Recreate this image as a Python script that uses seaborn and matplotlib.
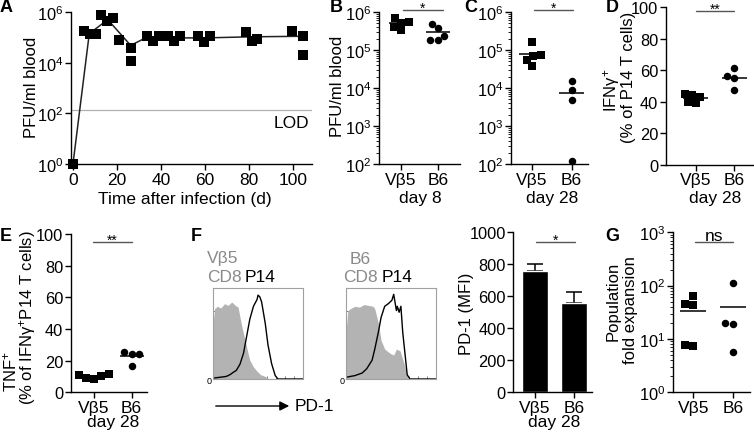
import numpy as np
import pandas as pd
import matplotlib
matplotlib.use("Agg")
import matplotlib.pyplot as plt
import seaborn as sns
from matplotlib.ticker import LogLocator, NullFormatter
from matplotlib.patches import FancyArrowPatch
from matplotlib.lines import Line2D

# ---------------- data ----------------
cats = ["Vβ5", "B6"]

# Panel A: virus titre over time
a_day = [0, 5.1, 7.7, 10.5, 12.7, 15.6, 18.3, 20.9, 26.4, 26.4, 33.5, 36.2, 39.1,
         43.3, 45.9, 48.6, 57.0, 59.7, 62.3, 78.5, 81.2, 83.5, 99.7, 104.7, 104.7]
a_pfu = [1, 1.8e5, 1.35e5, 1.35e5, 7.9e5, 4.3e5, 5.8e5, 7.6e4, 3.9e4, 1.2e4, 1.1e5,
         6.9e4, 1.1e5, 1.1e5, 6.9e4, 1.1e5, 1.1e5, 6.6e4, 1.1e5, 1.6e5, 6.9e4, 8.5e4,
         1.8e5, 1.1e5, 2.0e4]
a_mean_day = [0, 7.4, 15.8, 26.2, 33.5, 46, 60, 81, 104.7]
a_mean_pfu = [1, 1.4e5, 5.0e5, 4.8e4, 1.0e5, 9.5e4, 9.5e4, 1.05e5, 1.1e5]
lod = 1.35e2

# Panel B: PFU day 8
b_vb5 = [5.5e5, 6.9e5, 5.2e5, 4.1e5, 3.3e5]
b_b6 = [4.9e5, 3.8e5, 2.4e5, 1.8e5, 1.8e5]
# Panel C: PFU day 28
c_vb5 = [1.6e5, 6.9e4, 7.2e4, 5.4e4, 3.8e4]
c_b6 = [1.5e4, 8.7e3, 4.9e3, 1.2e2]
# Panel D: IFNg+
d_vb5 = [45, 43, 44, 39, 40]
d_b6 = [56.2, 54.9, 61.2, 47.7]
# Panel E: TNF+
e_vb5 = [11.5, 11, 10, 9, 8.5]
e_b6 = [24.5, 25.5, 24, 16.5]
# Panel F: PD-1 MFI
f_mean = [760, 560]
f_sem = [45, 70]
# Panel G: fold expansion
g_vb5 = [7.5, 7.7, 45, 43, 63]
g_b6 = [112, 19, 19.5, 5.8]

# Panel F histograms (fraction of axis)
h1_cd8_x = [0.0, 0.02, 0.05, 0.09, 0.13, 0.17, 0.21, 0.25, 0.28, 0.32, 0.36, 0.39, 0.41, 0.45, 0.49, 0.53, 0.58, 0.62, 1.0]
h1_cd8_y = [0.6, 0.82, 0.85, 0.83, 0.88, 0.86, 0.9, 0.86, 0.84, 0.62, 0.44, 0.3, 0.22, 0.14, 0.09, 0.05, 0.03, 0.0, 0.0]
h1_p14_x = [0.0, 0.08, 0.15, 0.19, 0.23, 0.26, 0.3, 0.34, 0.375, 0.41, 0.45, 0.49, 0.5, 0.52, 0.54, 0.58, 0.61, 0.65, 0.69, 0.72, 1.0]
h1_p14_y = [0.01, 0.02, 0.03, 0.05, 0.08, 0.1, 0.17, 0.3, 0.5, 0.7, 0.85, 0.93, 0.98, 0.96, 0.9, 0.65, 0.4, 0.18, 0.04, 0.0, 0.0]
h2_cd8_x = [0.0, 0.02, 0.06, 0.1, 0.15, 0.2, 0.25, 0.3, 0.32, 0.36, 0.39, 0.43, 0.49, 0.53, 0.56, 0.6, 0.64, 0.67, 0.69, 1.0]
h2_cd8_y = [0.55, 0.8, 0.83, 0.85, 0.84, 0.87, 0.86, 0.85, 0.82, 0.65, 0.45, 0.35, 0.3, 0.28, 0.35, 0.33, 0.2, 0.07, 0.0, 0.0]
h2_p14_x = [0.0, 0.1, 0.18, 0.23, 0.29, 0.32, 0.36, 0.39, 0.43, 0.47, 0.51, 0.53, 0.56, 0.57, 0.59, 0.61, 0.63, 0.66, 0.68, 0.71, 1.0]
h2_p14_y = [0.02, 0.04, 0.07, 0.12, 0.22, 0.35, 0.55, 0.72, 0.85, 0.88, 0.92, 0.99, 0.8, 0.85, 0.78, 0.85, 0.55, 0.25, 0.05, 0.0, 0.0]

# ---------------- style ----------------
sns.set_theme(style="ticks")
plt.rcParams["font.family"] = ["Liberation Sans", "DejaVu Sans"]
plt.rcParams["mathtext.fontset"] = "custom"
plt.rcParams["mathtext.rm"] = "Liberation Sans"
plt.rcParams["mathtext.it"] = "Liberation Sans:italic"
plt.rcParams["mathtext.bf"] = "Liberation Sans:bold"
for k in ["text.color", "axes.labelcolor", "xtick.color", "ytick.color", "axes.edgecolor"]:
    plt.rcParams[k] = "black"
plt.rcParams["axes.linewidth"] = 1.0

FS = 12.5
VFS = 12.0
XFS = 12.5
YFS = 11.8
W, H = 754, 435
fig = plt.figure(figsize=(W / 100, H / 100), dpi=100)


def add_ax(l, t, r, b):
    return fig.add_axes([l / W, 1 - b / H, (r - l) / W, (b - t) / H])


def ftext(x, y, s, **kw):
    kw.setdefault("fontsize", FS)
    kw.setdefault("ha", "center")
    kw.setdefault("va", "center")
    fig.text(x / W, 1 - y / H, s, **kw)


def vtext(x, y, s):
    ftext(x, y, s, rotation=90, fontsize=VFS)


def style(ax, log=False):
    sns.despine(ax=ax)
    ax.tick_params(axis="both", which="major", length=4, width=1, pad=1.5)
    ax.tick_params(axis="x", labelsize=XFS)
    ax.tick_params(axis="y", labelsize=YFS)
    if log:
        ax.yaxis.set_minor_locator(LogLocator(base=10, subs=np.arange(2, 10)))
        ax.yaxis.set_minor_formatter(NullFormatter())
        ax.tick_params(axis="y", which="minor", length=2, width=0.6)


def sig(ax, x0, x1, yfrac, text, fs=10, off=-1.1):
    tr = ax.get_xaxis_transform()
    ax.add_line(Line2D([x0, x1], [yfrac, yfrac], transform=tr, color="#555555",
                       lw=1, clip_on=False))
    ax.annotate(text, xy=((x0 + x1) / 2, yfrac), xycoords=tr, xytext=(0, off),
                textcoords="offset points", ha="center", va="baseline",
                fontsize=fs, annotation_clip=False)


def dotpanel(ax, vb5, b6, log, xlim):
    df = pd.DataFrame({"g": [cats[0]] * len(vb5) + [cats[1]] * len(b6),
                       "v": list(vb5) + list(b6)})
    kw = dict(x="g", y="v", order=cats, color="black", size=5.4, ax=ax,
              linewidth=0)
    if log:
        kw["log_scale"] = (False, True)
    sns.swarmplot(data=df[df.g == cats[0]], marker="s", **kw)
    sns.swarmplot(data=df[df.g == cats[1]], marker="o", **kw)
    means = df.groupby("g")["v"].mean()
    for i, c in enumerate(cats):
        ax.hlines(means[c], i - 0.32, i + 0.32, color="black", lw=1.1, zorder=5)
    ax.set_xlim(*xlim)
    ax.set_xlabel("")
    ax.set_ylabel("")
    style(ax, log)


# ---------------- Panel A ----------------
axA = add_ax(71, 13, 312, 165)
axA.set_yscale("log")
sns.lineplot(x=a_mean_day, y=a_mean_pfu, color="#222222", lw=1.1, ax=axA)
sns.scatterplot(x=a_day, y=a_pfu, marker="s", color="black", s=52, linewidth=0,
                ax=axA, zorder=4, clip_on=False)
axA.axhline(lod, color="#b0b0b0", lw=0.9, zorder=0)
axA.text(107.5, lod / 1.6, "LOD", ha="right", va="top", fontsize=FS)
axA.set_xlim(-0.9, 108.6)
axA.set_ylim(1, 1e6)
axA.set_xticks([0, 20, 40, 60, 80, 100])
axA.set_yticks([1, 1e2, 1e4, 1e6])
style(axA, True)
vtext(32, 87, "PFU/ml blood")
ftext(185, 200, "Time after infection (d)")

# ---------------- Panel B ----------------
axB = add_ax(379, 13, 460, 165)
dotpanel(axB, b_vb5, b_b6, True, (-0.58, 1.58))
axB.set_ylim(1e2, 1e6)
axB.set_yticks([1e2, 1e3, 1e4, 1e5, 1e6])
sig(axB, 0.05, 1.12, 1.01, "*")
vtext(338, 86, "PFU/ml blood")
ftext(420, 199, "day 8")

# ---------------- Panel C ----------------
axC = add_ax(511, 13, 588, 165)
dotpanel(axC, c_vb5, c_b6, True, (-0.52, 1.41))
axC.set_ylim(1e2, 1e6)
axC.set_yticks([1e2, 1e3, 1e4, 1e5, 1e6])
sig(axC, 0.06, 1.03, 1.01, "*")
ftext(552, 199, "day 28")

# ---------------- Panel D ----------------
axD = add_ax(666, 8.3, 753, 165.7)
dotpanel(axD, d_vb5, d_b6, False, (-0.77, 1.48))
axD.set_ylim(0, 100)
axD.set_yticks([0, 20, 40, 60, 80, 100])
sig(axD, 0.01, 0.99, 0.978, "**")
vtext(612, 90, "IFNγ$^{+}$")
vtext(628, 77, "(% of P14 T cells)")
ftext(715, 199, "day 28")

# ---------------- Panel E ----------------
axE = add_ax(70.7, 235, 146.7, 393.3)
dotpanel(axE, e_vb5, e_b6, False, (-0.62, 1.40))
axE.set_ylim(0, 100)
axE.set_yticks([0, 20, 40, 60, 80, 100])
sig(axE, -0.03, 1.0, 0.947, "**")
vtext(10, 372, "TNF$^{+}$")
vtext(28, 318, "(% of IFNγ$^{+}$P14 T cells)")
ftext(113, 423, "day 28")

# ---------------- Panel F histograms ----------------
def histpanel(ax, xg, yg, xb, yb):
    ax.fill_between(xg, yg, color="#b3b3b3", lw=0)
    sns.lineplot(x=xb, y=yb, color="black", lw=1, ax=ax, sort=False,
                 estimator=None)
    ax.set_xlim(0, 1)
    ax.set_ylim(0, 1.06)
    for s in ax.spines.values():
        s.set_visible(True)
        s.set_color("#a0a0a0")
        s.set_linewidth(0.8)
    ax.set_xticks([])
    ax.set_yticks([0])
    ax.set_yticklabels(["0"], fontsize=6.5)
    ax.set_yticks([0.2, 0.4, 0.6, 0.8], minor=True)
    ax.set_xticks([0.03, 0.05, 0.07, 0.09, 0.11, 0.2, 0.3, 0.4, 0.5, 0.6, 0.7, 0.8, 0.9],
                  minor=True)
    ax.tick_params(axis="both", which="both", length=2, width=0.6, color="#666666",
                   direction="in", pad=1)
    ax.set_xlabel("")
    ax.set_ylabel("")


axH1 = add_ax(212.7, 289.3, 303.3, 380)
histpanel(axH1, h1_cd8_x, h1_cd8_y, h1_p14_x, h1_p14_y)
axH2 = add_ax(346, 289.3, 436, 380)
histpanel(axH2, h2_cd8_x, h2_cd8_y, h2_p14_x, h2_p14_y)
grey = "#8a8a8a"
ftext(207, 259, "Vβ5", ha="left", color=grey)
ftext(207, 278, "CD8", ha="left", color=grey)
ftext(245, 278, "P14", ha="left", color="black")
ftext(350, 259, "B6", ha="left", color=grey)
ftext(343, 278, "CD8", ha="left", color=grey)
ftext(382, 278, "P14", ha="left", color="black")
arrow = FancyArrowPatch((213 / W, 1 - 407 / H), (292 / W, 1 - 407 / H),
                        transform=fig.transFigure, arrowstyle="-|>",
                        mutation_scale=14, lw=1, color="black")
fig.add_artist(arrow)
ftext(295, 407, "PD-1", ha="left")

# ---------------- Panel F bar ----------------
axF = add_ax(513.3, 233.3, 592, 393.3)
sns.barplot(x=cats, y=f_mean, color="black", saturation=1, width=0.68, ax=axF)
axF.errorbar(x=[0, 1], y=f_mean, yerr=[[0, 0], f_sem], fmt="none", ecolor="black",
             elinewidth=1.1, capsize=6, capthick=1.1, zorder=0)
axF.set_xlim(-0.56, 1.46)
axF.set_ylim(0, 1000)
axF.set_yticks([0, 200, 400, 600, 800, 1000])
axF.set_xlabel("")
style(axF)
sig(axF, 0.03, 1.03, 0.9375, "*")
vtext(466, 314, "PD-1 (MFI)")
ftext(554, 423, "day 28")

# ---------------- Panel G ----------------
axG = add_ax(673.3, 233.3, 750, 393.3)
dotpanel(axG, g_vb5, g_b6, True, (-0.5, 1.42))
axG.set_ylim(1, 1e3)
axG.set_yticks([1, 1e1, 1e2, 1e3])
sig(axG, 0.04, 0.99, 0.9375, "ns", fs=FS, off=1.5)
vtext(613, 301, "Population")
vtext(631, 310, "fold expansion")

# ---------------- panel letters ----------------
for lt, x, y in [("A", 6, 8), ("B", 336, 8), ("C", 471, 8), ("D", 612, 8),
                 ("E", 6, 237), ("F", 196, 237), ("G", 612, 237)]:
    ftext(x, y, lt, fontweight="bold", fontsize=13)

fig.savefig("out.png", dpi=100)
